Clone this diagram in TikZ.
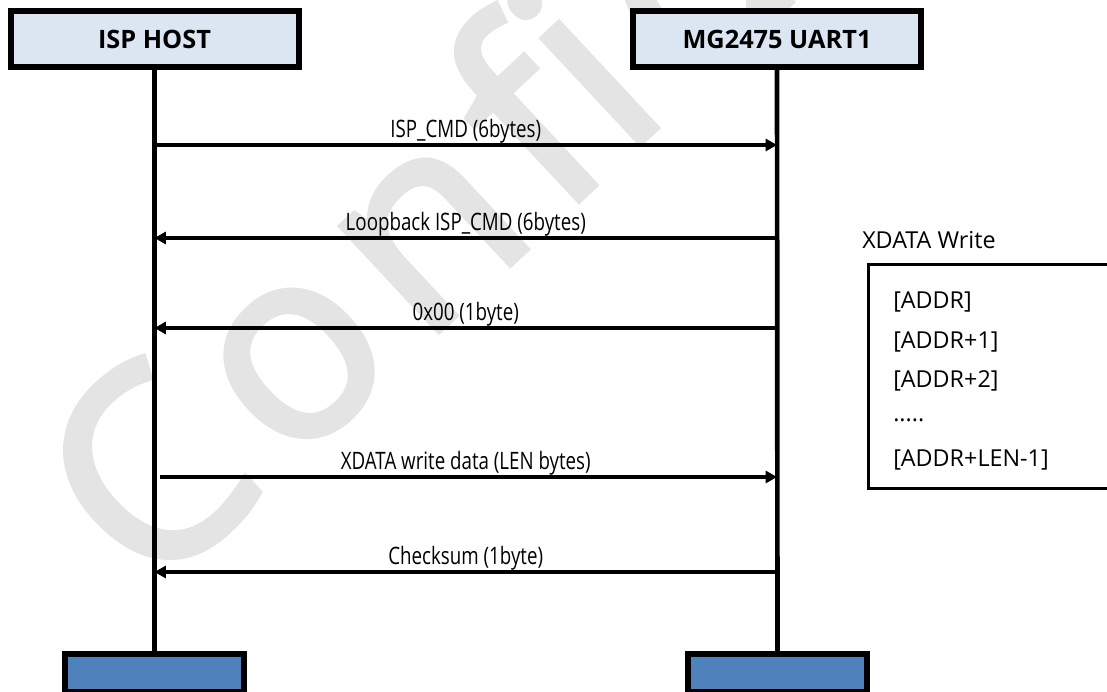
\documentclass[tikz,border=0pt]{standalone}
\usepackage{fontspec}
\setmainfont{Open Sans}
\newfontfamily\labelfont[FakeStretch=0.78]{Open Sans}
\newfontfamily\markfont[FakeBold=2.5, LetterSpace=8]{Open Sans}
\usetikzlibrary{arrows.meta, positioning, calc}
\definecolor{headfill}{HTML}{DCE6F2}
\definecolor{footfill}{HTML}{4F81BD}
\definecolor{markgray}{HTML}{E4E4E4}
\newcommand{\cellgap}{.....}

\begin{document}
\begin{tikzpicture}[x=0.75pt, y=-0.75pt,
	head/.style={draw, line width=4.5pt, fill=headfill, minimum width=216pt, minimum height=42pt, inner sep=0pt, font=\fontsize{19}{22}\selectfont\bfseries},
	foot/.style={draw, line width=4.5pt, fill=footfill, minimum width=134pt, minimum height=28pt, inner sep=0pt},
	life/.style={line width=3.5pt},
	msg/.style={line width=2.3pt, -{Triangle[length=8.5pt, width=9pt]}},
	lbl/.style={font=\labelfont\fontsize{18}{21}\selectfont, inner sep=0.5pt},
	cell/.style={font=\fontsize{17.5}{21}\selectfont, inner sep=0pt}]
	\useasboundingbox (0,0) rectangle (1107,692);
	\clip (0,0) rectangle (1107,692);

	% watermark
	\node[rotate=43, anchor=base west, inner sep=0pt, text=markgray, font=\markfont\fontsize{200}{200}\selectfont] (mark) at (150,600) {Confidential};

	% lifelines
	\node[head] (host) at (154.5,39) {ISP HOST};
	\node[head] (uart) at (777,39) {MG2475 UART1};
	\node[foot] (hostEnd) at (154.5,673) {};
	\node[foot] (uartEnd) at (777.5,673) {};
	\draw[life] (host) -- (hostEnd);
	\draw[life] (uart) -- (uartEnd);

	% messages
	\coordinate (m1) at (0,145);
	\coordinate (m2) at (0,238);
	\coordinate (m3) at (0,328);
	\coordinate (m4) at (0,477);
	\coordinate (m5) at (0,572);
	\draw[msg] (host |- m1) -- node[lbl, above] {ISP\_CMD (6bytes)} (uart |- m1);
	\draw[msg] (uart |- m2) -- node[lbl, above] {Loopback ISP\_CMD (6bytes)} (host |- m2);
	\draw[msg] (uart |- m3) -- node[lbl, above] {0x00 (1byte)} (host |- m3);
	\draw[msg, shorten <=4pt] (host |- m4) -- node[lbl, above] {XDATA write data (LEN bytes)} (uart |- m4);
	\draw[msg] (uart |- m5) -- node[lbl, above] {Checksum (1byte)} (host |- m5);

	% memory layout
	\node[cell, anchor=west] (xtitle) at (862,240) {XDATA Write};
	\node[draw, line width=2.2pt, anchor=north west, minimum width=200pt, minimum height=168pt] (xbox) at (867,263) {};
	\foreach \c [count=\i from 0] in {{[ADDR]}, {[ADDR+1]}, {[ADDR+2]}, {\cellgap}, {[ADDR+LEN-1]}}
		\node[cell, anchor=west] (cell\i) at (893,302+39.5*\i) {\c};
\end{tikzpicture}
\end{document}
